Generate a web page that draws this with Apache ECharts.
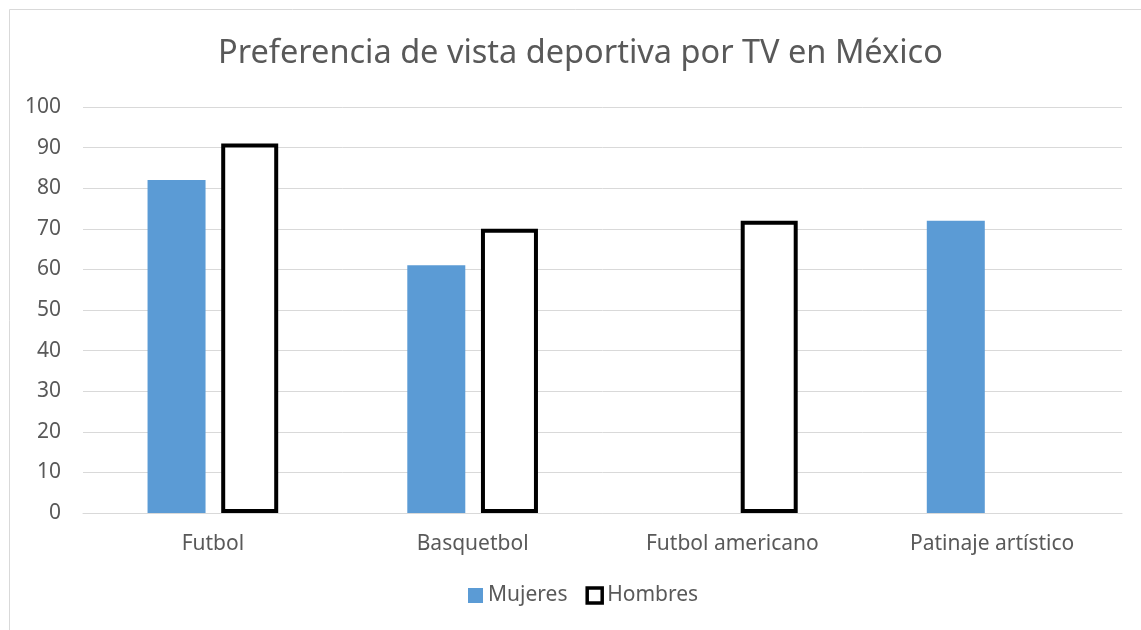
<!DOCTYPE html>
<html>
<head>
<meta charset="utf-8">
<script src="https://cdn.jsdelivr.net/npm/echarts@6/dist/echarts.min.js"></script>
<style>html,body{margin:0;padding:0;background:#fff;}#c{width:1141px;height:630px;}</style>
</head>
<body>
<div id="c"></div>
<script>
var titleText = 'Preferencia de vista deportiva por TV en México';
var categories = ['Futbol', 'Basquetbol', 'Futbol americano', 'Patinaje artístico'];
var mujeres = [82, 61, null, 72];
var hombres = [91, 70, 72, null];
var yTicks = [0, 10, 20, 30, 40, 50, 60, 70, 80, 90, 100];

var chart = echarts.init(document.getElementById('c'), null, {renderer: 'canvas'});
var font = 'Noto Sans';
chart.setOption({
  animation: false,
  backgroundColor: '#fff',
  graphic: [{
    type: 'rect', left: 7, top: 7,
    shape: {width: 1150, height: 640},
    style: {fill: 'none', stroke: '#d9d9d9', lineWidth: 1}
  }],
  title: {
    text: titleText, left: 213, top: 32,
    textStyle: {fontFamily: font, fontSize: 32.5, fontWeight: 'normal', color: '#595959'}
  },
  legend: {
    bottom: 19, left: 463, itemWidth: 15, itemHeight: 15, itemGap: 18,
    textStyle: {fontFamily: font, fontSize: 21, color: '#595959'},
    data: [
      {name: 'Mujeres', icon: 'rect'},
      {name: 'Hombres', icon: 'rect', itemStyle: {color: '#fff', borderColor: '#000', borderWidth: 3.5}}
    ]
  },
  grid: {left: 83, right: 19, top: 107, bottom: 117},
  xAxis: {
    type: 'category', data: categories,
    axisLine: {lineStyle: {color: '#d9d9d9', width: 1}},
    axisTick: {show: false},
    axisLabel: {fontFamily: font, fontSize: 21, color: '#595959', margin: 21}
  },
  yAxis: {
    type: 'value', min: yTicks[0], max: yTicks[yTicks.length - 1], interval: 10,
    axisLine: {show: false}, axisTick: {show: false},
    splitLine: {lineStyle: {color: '#d9d9d9', width: 1}},
    axisLabel: {fontFamily: font, fontSize: 21, color: '#595959', margin: 22}
  },
  series: [
    {name: 'Mujeres', type: 'bar', data: mujeres, barWidth: 58, barGap: '27%',
     itemStyle: {color: '#5B9BD5'}},
    {name: 'Hombres', type: 'bar', data: hombres, barWidth: 57,
     itemStyle: {color: '#fff', borderColor: '#000', borderWidth: 4}}
  ]
});
</script>
</body>
</html>
